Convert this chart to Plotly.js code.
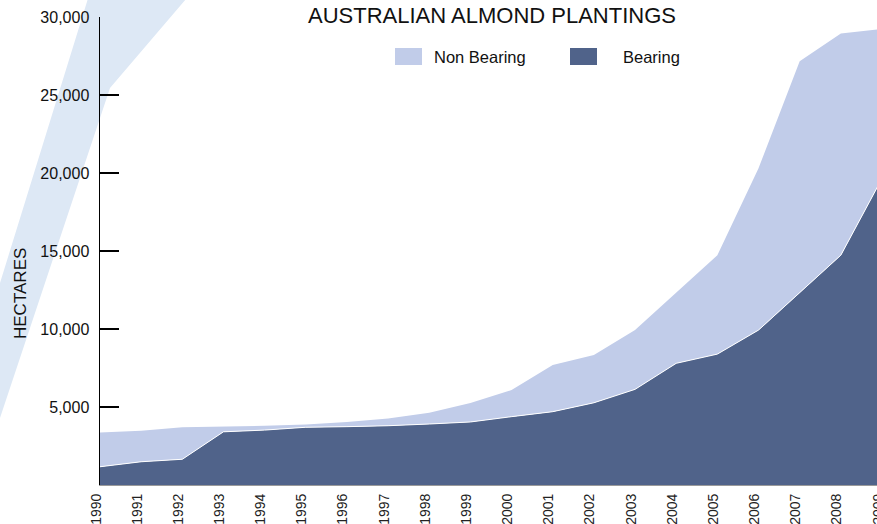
<!DOCTYPE html>
<html>
<head>
<meta charset="utf-8">
<script src="https://cdn.plot.ly/plotly-3.0.1.min.js"></script>
<style>
html, body { margin: 0; padding: 0; overflow: hidden; background: #fff; }
#chart { width: 882px; height: 524px; }
</style>
</head>
<body>
<div id="chart"></div>
<script>
// ---- data (hectares) ----
const years = [1990, 1991, 1992, 1993, 1994, 1995, 1996, 1997, 1998, 1999,
               2000, 2001, 2002, 2003, 2004, 2005, 2006, 2007, 2008, 2009];
const bearing = [1170, 1490, 1650, 3410, 3520, 3700, 3740, 3800, 3910, 4040,
                 4380, 4700, 5270, 6130, 7800, 8390, 9930, 12350, 14730, 19650];
const nonBearing = [2200, 1990, 2050, 330, 280, 180, 300, 470, 720, 1210,
                    1710, 2990, 3060, 3800, 4550, 6340, 10370, 14810, 14210, 9580];
const yTickVals = [5000, 10000, 15000, 20000, 25000, 30000];
const yTickText = ['5,000', '10,000', '15,000', '20,000', '25,000', '30,000'];
const seriesNames = ['Non Bearing', 'Bearing'];
const titleText = 'AUSTRALIAN ALMOND PLANTINGS';
const yTitleText = 'HECTARES';

// ---- styling / geometry ----
const W = 882, H = 524;
const M = { l: 100, r: 0, t: 17, b: 39 };
const PW = W - M.l - M.r, PH = H - M.t - M.b;
const px = x => (x - M.l) / PW;          // pixel -> paper x
const py = y => (H - M.b - y) / PH;      // pixel -> paper y
const DARK = 'rgb(80,99,138)';
const LIGHT = 'rgb(193,204,233)';
const BAND = 'rgb(221,232,245)';
const FONT = '"Liberation Sans", Arial, sans-serif';

const traces = [
  { x: years, y: bearing, name: seriesNames[1], type: 'scatter', mode: 'lines',
    stackgroup: 'one', fillcolor: DARK, line: { color: '#ffffff', width: 1 },
    showlegend: false, hoverinfo: 'x+y' },
  { x: years, y: nonBearing, name: seriesNames[0], type: 'scatter', mode: 'lines',
    stackgroup: 'one', fillcolor: LIGHT, line: { color: LIGHT, width: 0 },
    showlegend: false, hoverinfo: 'x+y' }
];

// decorative diagonal band (pixel polygon -> paper)
const bandPts = [[90, -8], [192, -8], [110, 88], [0, 418], [-30, 520], [-30, 374], [0, 283]];
const bandPath = 'M' + bandPts.map(p => px(p[0]).toFixed(5) + ',' + py(p[1]).toFixed(5)).join('L') + 'Z';

const shapes = [
  { type: 'path', xref: 'paper', yref: 'paper', path: bandPath,
    fillcolor: BAND, line: { width: 0 }, layer: 'below' },
  // legend swatches
  { type: 'rect', xref: 'paper', yref: 'paper', x0: px(395), x1: px(422), y0: py(65), y1: py(48),
    fillcolor: LIGHT, line: { width: 0 } },
  { type: 'rect', xref: 'paper', yref: 'paper', x0: px(570), x1: px(597), y0: py(65), y1: py(48),
    fillcolor: DARK, line: { width: 0 } }
];

const annotations = [
  { text: seriesNames[0], xref: 'paper', yref: 'paper', x: px(432), y: py(57),
    xanchor: 'left', yanchor: 'middle', showarrow: false,
    font: { family: FONT, size: 16.5, color: '#111' } },
  { text: seriesNames[1], xref: 'paper', yref: 'paper', x: px(621), y: py(57),
    xanchor: 'left', yanchor: 'middle', showarrow: false,
    font: { family: FONT, size: 16.5, color: '#111' } },
  { text: yTitleText, xref: 'paper', yref: 'paper', x: px(20), y: py(294),
    xanchor: 'center', yanchor: 'middle', textangle: -90, showarrow: false,
    font: { family: FONT, size: 17, color: '#111' } }
];

const layout = {
  width: W, height: H,
  margin: M,
  paper_bgcolor: '#ffffff', plot_bgcolor: 'rgba(0,0,0,0)',
  showlegend: false,
  title: { text: titleText, xref: 'container', yref: 'container',
           x: 492 / W, y: 1 - 15 / H, xanchor: 'center', yanchor: 'middle',
           font: { family: FONT, size: 22, color: '#111' } },
  xaxis: {
    range: [1990, 2009], showgrid: false, zeroline: false,
    tickmode: 'array', tickvals: years, ticktext: years.map(String),
    tickangle: -90, ticks: '', ticklabelstandoff: 2, ticklabelshift: -4,
    ticklabeloverflow: 'allow',
    showline: true, linecolor: '#9a9a9a', linewidth: 1,
    tickfont: { family: FONT, size: 14, color: '#222' }
  },
  yaxis: {
    range: [0, 30000], showgrid: false, zeroline: false,
    tickmode: 'array', tickvals: yTickVals, ticktext: yTickText,
    ticks: 'inside', ticklen: 19, tickwidth: 1.5, tickcolor: '#000',
    showline: true, linecolor: '#000', linewidth: 1.5,
    ticklabelstandoff: 6,
    tickfont: { family: FONT, size: 16, color: '#111' }
  },
  shapes: shapes,
  annotations: annotations
};

Plotly.newPlot('chart', traces, layout, { displayModeBar: false, staticPlot: true });
</script>
</body>
</html>
